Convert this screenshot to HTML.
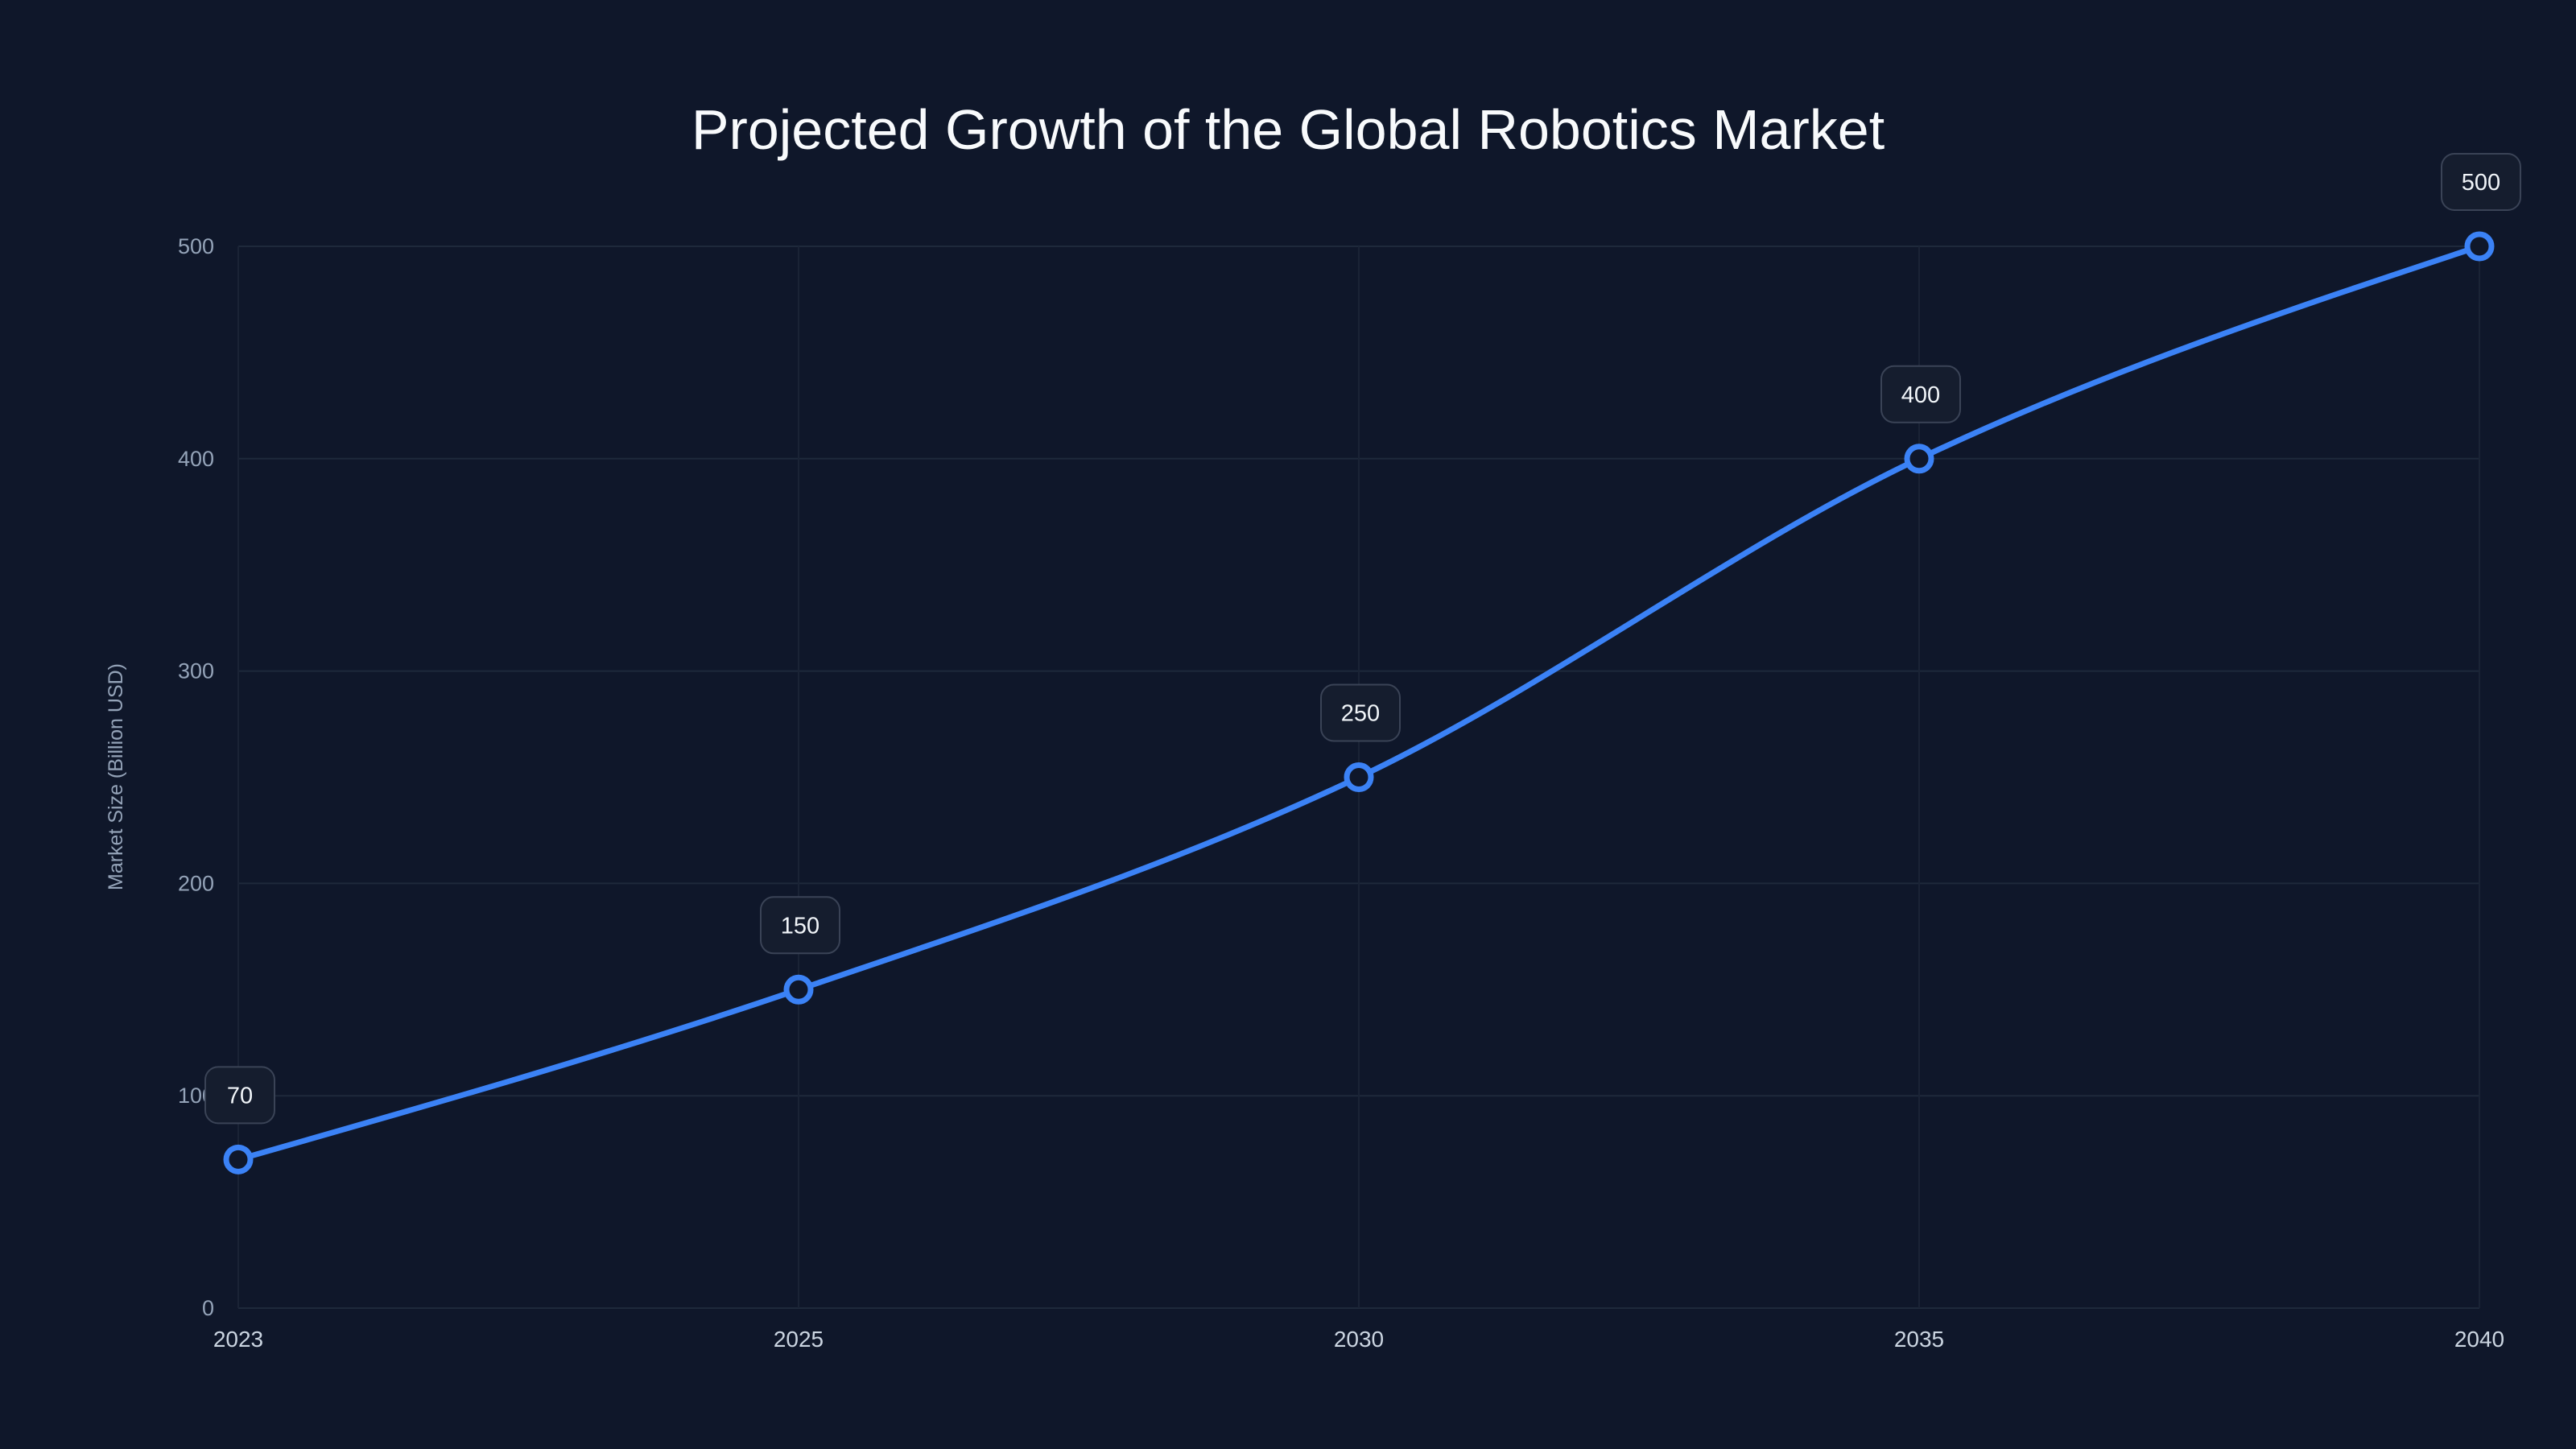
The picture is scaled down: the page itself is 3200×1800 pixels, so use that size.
<!DOCTYPE html>
<html><head><meta charset="utf-8">
<style>
html,body{margin:0;padding:0;background:#0f172a;}
svg{display:block;font-family:"Liberation Sans",sans-serif;}
</style></head>
<body>
<svg id="chart" width="3200" height="1800" viewBox="0 0 3200 1800">
<rect width="3200" height="1800" fill="#0f172a"/>
<text x="1600" y="185" text-anchor="middle" font-size="70" fill="#f8fafc">Projected Growth of the Global Robotics Market</text>
<text transform="translate(152,965) rotate(-90)" text-anchor="middle" font-size="25" fill="#94a3b8">Market Size (Billion USD)</text>
<g id="grid"></g><g id="ticks"></g><g id="series"></g><g id="labels"></g>
</svg>
<script>
const categories = ["2023","2025","2030","2035","2040"];
const values = [70,150,250,400,500];
const yTicks = [0,100,200,300,400,500];

const NS="http://www.w3.org/2000/svg";
const x0=296,x1=3080,yBase=1625,yTop=306,yMax=500;
function xs(i){return x0+(x1-x0)*i/(categories.length-1);}
function ys(v){return yBase-(yBase-yTop)*v/yMax;}
function mk(tag,attrs,parent){const e=document.createElementNS(NS,tag);for(const k in attrs)e.setAttribute(k,attrs[k]);parent.appendChild(e);return e;}
const grid=document.getElementById('grid'),ticks=document.getElementById('ticks'),series=document.getElementById('series'),labels=document.getElementById('labels');

yTicks.forEach(t=>{
  const l=mk('line',{x1:x0,x2:x1,y1:ys(t),y2:ys(t),stroke:'#1e293b','stroke-width':2},grid);
  
  
  const tx=mk('text',{x:266,y:ys(t)+9,'text-anchor':'end','font-size':27,fill:'#94a3b8'},ticks);
  tx.textContent=t;
  
  
});
categories.forEach((c,i)=>{
  const l=mk('line',{x1:xs(i),x2:xs(i),y1:yTop,y2:yBase,stroke:'#1a2335','stroke-width':2},grid);
  
  
  const tx=mk('text',{x:xs(i),y:1673,'text-anchor':'middle','font-size':28,fill:'#cbd5e1'},ticks);
  tx.textContent=c;
  
  
});

// monotone cubic
const P=values.map((v,i)=>[xs(i),ys(v)]);
const n=P.length,d=[],m=[];
for(let i=0;i<n-1;i++)d.push((P[i+1][1]-P[i][1])/(P[i+1][0]-P[i][0]));
for(let i=0;i<n;i++){
  if(i===0)m.push(d[0]);else if(i===n-1)m.push(d[n-2]);
  else{ if(d[i-1]*d[i]<=0)m.push(0); else{const h0=P[i][0]-P[i-1][0],h1=P[i+1][0]-P[i][0];m.push((d[i-1]*h1+d[i]*h0)/(h0+h1)*1);} }
}
for(let i=1;i<n-1;i++){const h0=P[i][0]-P[i-1][0],h1=P[i+1][0]-P[i][0];const s=(d[i-1]*h0+d[i]*h1)/(h0+h1);
  const a=Math.min(Math.abs(d[i-1]),Math.abs(d[i]));m[i]=Math.sign(s)*Math.min(Math.abs(s),...[]) ;
  const p=(d[i-1]*h1+d[i]*h0)/(h0+h1);m[i]=(Math.sign(d[i-1])+Math.sign(d[i]))*Math.min(Math.abs(d[i-1]),Math.abs(d[i]),0.5*Math.abs(p));}
m[0]=(3*d[0]-m[1])/2; m[n-1]=(3*d[n-2]-m[n-2])/2;
let path=`M${P[0][0]},${P[0][1]}`;
for(let i=0;i<n-1;i++){const h=(P[i+1][0]-P[i][0])/3;
  path+=` C${P[i][0]+h},${P[i][1]+m[i]*h} ${P[i+1][0]-h},${P[i+1][1]-m[i+1]*h} ${P[i+1][0]},${P[i+1][1]}`;}
const line=mk('path',{d:path,fill:'none',stroke:'#3b82f6','stroke-width':7,'stroke-linejoin':'round'},series);



values.forEach((v,i)=>{
  const c=mk('circle',{cx:xs(i),cy:ys(v),r:15,fill:'#0f172a',stroke:'#3b82f6','stroke-width':7},series);
  
  
  const w=String(v).length>2?98:86;
  const bx=mk('rect',{x:xs(i)-w/2+2,y:ys(v)-115,width:w,height:70,rx:16,fill:'#151d2e',stroke:'#3a4356','stroke-width':2},labels);
  
  
  const t=mk('text',{x:xs(i)+2,y:ys(v)-70,'text-anchor':'middle','font-size':29,fill:'#f1f5f9'},labels);
  t.textContent=v;
  
  
});
</script>
</body></html>
